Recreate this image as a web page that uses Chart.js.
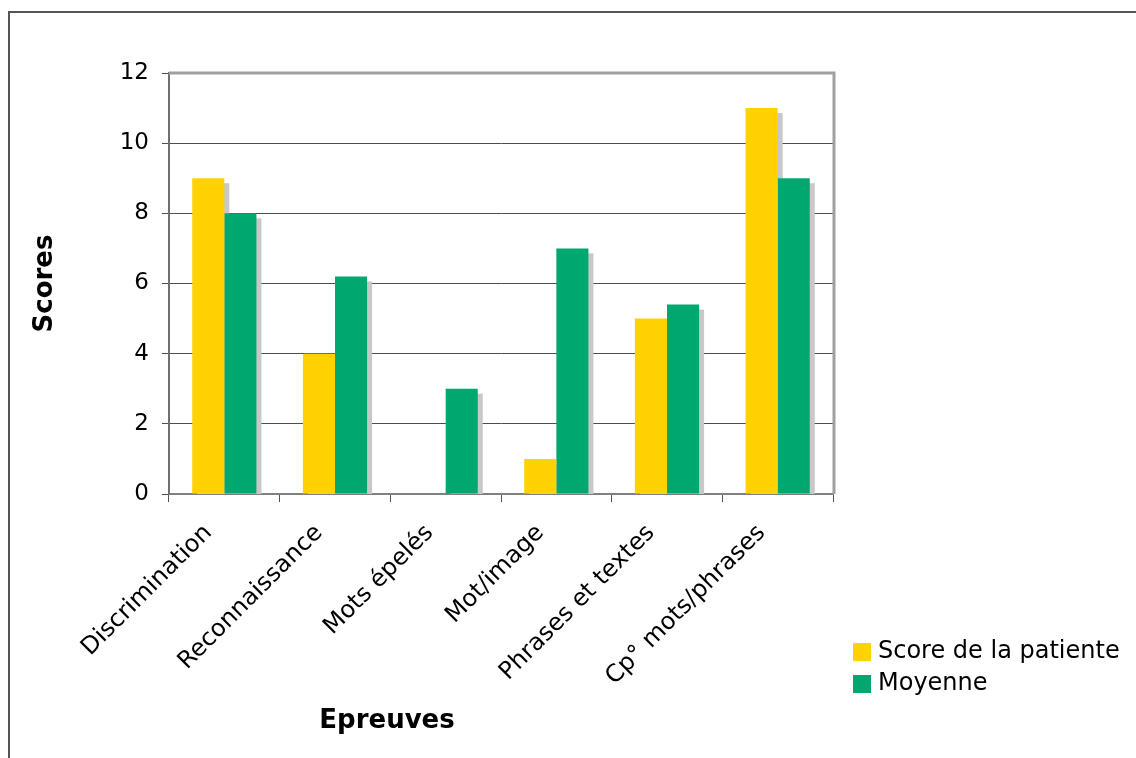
<!DOCTYPE html>
<html>
<head>
<meta charset="utf-8">
<title>Scores par épreuve</title>
<script src="https://cdn.jsdelivr.net/npm/chart.js@4/dist/chart.umd.min.js"></script>
<style>
    body { margin: 0; background: #fff; }
    #wrap { position: relative; width: 1136px; height: 758px; }
    #frame {
        position: absolute; left: 8px; top: 11px; right: 0; bottom: 0;
        border-left: 2px solid #555; border-top: 2px solid #555;
        pointer-events: none;
    }
</style>
</head>
<body>
<div id="wrap">
    <canvas id="chart" width="1136" height="758"></canvas>
    <div id="frame"></div>
</div>
<script>

// ===============================
// Data
// ===============================

const epreuves = [
    "Discrimination",
    "Reconnaissance",
    "Mots épelés",
    "Mot/image",
    "Phrases et textes",
    "Cp° mots/phrases"
];

const scorePatiente = [9, 4, 0, 1, 5, 11];
const moyenne = [8, 6.2, 3, 7, 5.4, 9];

const seriesNames = ["Score de la patiente", "Moyenne"];
const seriesColors = ["#FFD200", "#00A870"];

const yTicks = [0, 2, 4, 6, 8, 10, 12];

const FONT = "'DejaVu Sans', Verdana, sans-serif";

// ===============================
// Plugins
// ===============================

// grey drop shadow behind each bar
const barShadow = {
    id: "barShadow",
    beforeDatasetsDraw(chart){
        const ctx = chart.ctx;
        const area = chart.chartArea;
        ctx.save();
        ctx.beginPath();
        ctx.rect(area.left, area.top, area.right - area.left, area.bottom - area.top);
        ctx.clip();
        ctx.fillStyle = "#c8c8c8";
        chart.getSortedVisibleDatasetMetas().forEach(function(meta){
            meta.data.forEach(function(bar){
                const h = bar.base - bar.y;
                if(h <= 0) return;
                ctx.fillRect(bar.x - bar.width / 2 + 5, bar.y + 5, bar.width, h);
            });
        });
        ctx.restore();
    }
};

// top / right border of the plot, x title and legend
const decorations = {
    id: "decorations",
    afterDraw(chart){
        const ctx = chart.ctx;
        const area = chart.chartArea;

        ctx.save();
        ctx.strokeStyle = "#a0a0a0";
        ctx.lineWidth = 3;
        ctx.beginPath();
        ctx.moveTo(area.left, area.top);
        ctx.lineTo(area.right + 1, area.top);
        ctx.lineTo(area.right + 1, area.bottom);
        ctx.stroke();

        // x axis title
        ctx.fillStyle = "#000";
        ctx.font = "bold 26px " + FONT;
        ctx.textAlign = "center";
        ctx.textBaseline = "middle";
        ctx.fillText("Epreuves", area.left + 218, 721);

        // legend
        ctx.font = "24px " + FONT;
        ctx.textAlign = "left";
        chart.data.datasets.forEach(function(ds, i){
            const y = 652 + i * 32;
            ctx.fillStyle = ds.backgroundColor;
            ctx.fillRect(853, y - 9, 18, 18);
            ctx.fillStyle = "#000";
            ctx.fillText(ds.label, 878, y);
        });
        ctx.restore();
    }
};

// ===============================
// Chart
// ===============================

const canvas = document.getElementById("chart");

new Chart(canvas, {

    type: "bar",

    data: {
        labels: epreuves,
        datasets: [
            {
                label: seriesNames[0],
                data: scorePatiente,
                backgroundColor: seriesColors[0]
            },
            {
                label: seriesNames[1],
                data: moyenne,
                backgroundColor: seriesColors[1]
            }
        ]
    },

    options: {
        responsive: false,
        animation: false,
        events: [],
        barPercentage: 1,
        categoryPercentage: 0.58,
        layout: {
            padding: { top: 73, right: 303, left: 0, bottom: 0 }
        },
        plugins: {
            legend: { display: false },
            tooltip: { enabled: false }
        },
        scales: {
            x: {
                afterFit: function(scale){ scale.height = 264; },
                grid: {
                    drawOnChartArea: false,
                    drawTicks: true,
                    tickLength: 8,
                    color: "#555"
                },
                border: { color: "#808080", width: 2 },
                ticks: {
                    maxRotation: 45,
                    minRotation: 45,
                    padding: 17,
                    labelOffset: -16,
                    color: "#000",
                    font: { family: FONT, size: 24 }
                }
            },
            y: {
                min: 0,
                max: 12,
                afterFit: function(scale){ scale.width = 169; },
                afterBuildTicks: function(scale){
                    scale.ticks = yTicks.map(function(v){ return { value: v }; });
                },
                grid: {
                    color: "#4d4d4d",
                    tickLength: 7
                },
                border: { color: "#707070", width: 2 },
                ticks: {
                    padding: 13,
                    color: "#000",
                    font: { family: FONT, size: 23 }
                },
                title: {
                    display: true,
                    text: "Scores",
                    color: "#000",
                    padding: { top: 30, bottom: 0 },
                    font: { family: FONT, size: 26, weight: "bold" }
                }
            }
        }
    },

    plugins: [barShadow, decorations]

});

</script>
</body>
</html>
